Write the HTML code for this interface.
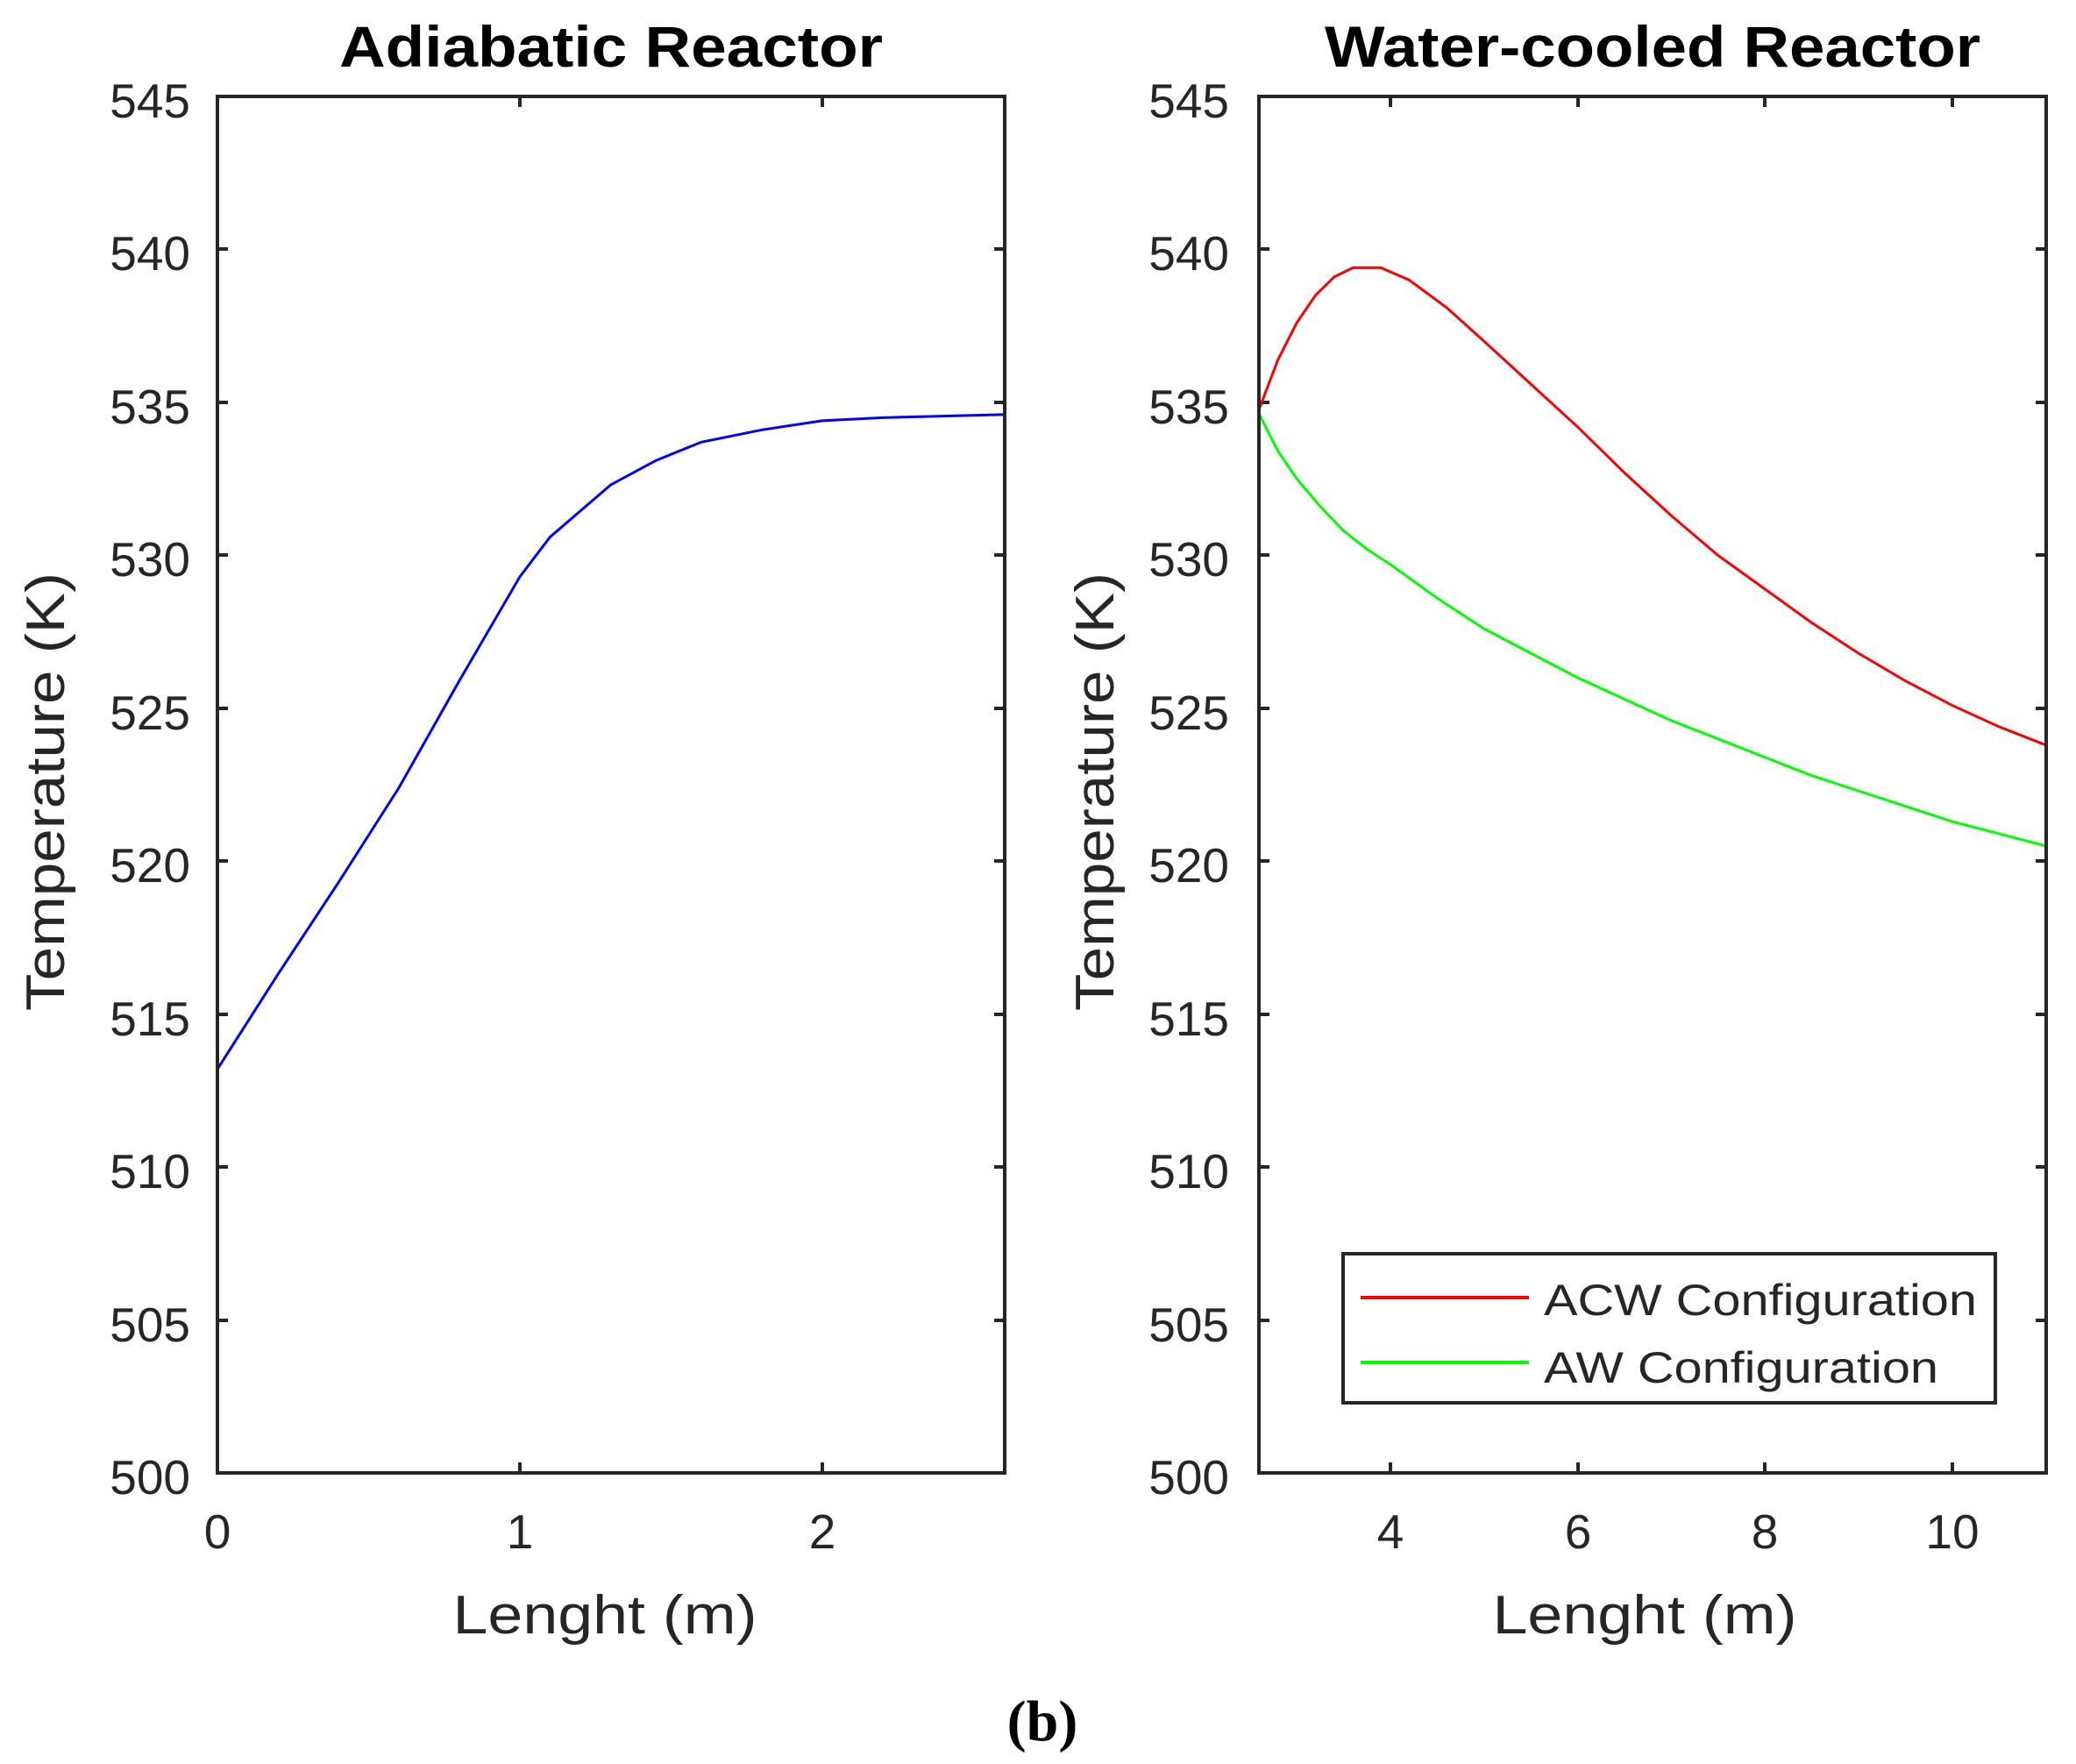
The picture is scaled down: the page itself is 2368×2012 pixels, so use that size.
<!DOCTYPE html>
<html><head><meta charset="utf-8"><style>html,body{margin:0;padding:0;background:#fff}svg{display:block}</style></head>
<body>
<svg width="2368" height="2012" viewBox="0 0 2368 2012" xmlns="http://www.w3.org/2000/svg" font-family="Liberation Sans, sans-serif">
<rect width="2368" height="2012" fill="#fff"/>
<defs><clipPath id="cl"><rect x="248" y="110" width="898" height="1570"/></clipPath>
<clipPath id="cr"><rect x="1436" y="110" width="898" height="1570"/></clipPath></defs>
<!-- Titles -->
<text x="697" y="76" font-size="66" font-weight="bold" text-anchor="middle" textLength="620" lengthAdjust="spacingAndGlyphs">Adiabatic Reactor</text>
<text x="1885" y="76" font-size="66" font-weight="bold" text-anchor="middle" textLength="748" lengthAdjust="spacingAndGlyphs">Water-cooled Reactor</text>
<g fill="#262626" font-size="55">
<!-- left y ticks -->
<g text-anchor="end">
<text x="217" y="134">545</text><text x="217" y="308">540</text><text x="217" y="483">535</text><text x="217" y="657">530</text><text x="217" y="832">525</text><text x="217" y="1006">520</text><text x="217" y="1181">515</text><text x="217" y="1355">510</text><text x="217" y="1530">505</text><text x="217" y="1704">500</text>
<text x="1402" y="134">545</text><text x="1402" y="308">540</text><text x="1402" y="483">535</text><text x="1402" y="657">530</text><text x="1402" y="832">525</text><text x="1402" y="1006">520</text><text x="1402" y="1181">515</text><text x="1402" y="1355">510</text><text x="1402" y="1530">505</text><text x="1402" y="1704">500</text>
</g>
<g text-anchor="middle">
<text x="248" y="1766">0</text><text x="593" y="1766">1</text><text x="938" y="1766">2</text>
<text x="1586" y="1766">4</text><text x="1800" y="1766">6</text><text x="2013" y="1766">8</text><text x="2227" y="1766">10</text>
</g>
<g font-size="62" text-anchor="middle">
<text x="690" y="1863" textLength="347" lengthAdjust="spacingAndGlyphs">Lenght (m)</text>
<text x="1876" y="1863" textLength="347" lengthAdjust="spacingAndGlyphs">Lenght (m)</text>
<text transform="translate(73,903) rotate(-90)" textLength="500" lengthAdjust="spacingAndGlyphs">Temperature (K)</text>
<text transform="translate(1270,903) rotate(-90)" textLength="500" lengthAdjust="spacingAndGlyphs">Temperature (K)</text>
</g>
</g>
<!-- ticks -->
<g stroke="#262626" stroke-width="4">
<path d="M248 284h12M248 459h12M248 633h12M248 808h12M248 982h12M248 1157h12M248 1331h12M248 1506h12
M1146 284h-12M1146 459h-12M1146 633h-12M1146 808h-12M1146 982h-12M1146 1157h-12M1146 1331h-12M1146 1506h-12
M593 1680v-12M938 1680v-12M593 110v12M938 110v12"/>
<path d="M1436 284h12M1436 459h12M1436 633h12M1436 808h12M1436 982h12M1436 1157h12M1436 1331h12M1436 1506h12
M2334 284h-12M2334 459h-12M2334 633h-12M2334 808h-12M2334 982h-12M2334 1157h-12M2334 1331h-12M2334 1506h-12
M1586 1680v-12M1800 1680v-12M2013 1680v-12M2227 1680v-12M1586 110v12M1800 110v12M2013 110v12M2227 110v12"/>
</g>
<!-- data -->
<g clip-path="url(#cl)"><g transform="translate(248,110) scale(345,-34.89) translate(0,-545)">
<polyline fill="none" stroke="#0000ff" stroke-width="3" vector-effect="non-scaling-stroke" points="0,513.2 0.2,516.3 0.4,519.3 0.6,522.4 0.8,525.9 1.0,529.3 1.1,530.6 1.3,532.3 1.45,533.1 1.6,533.7 1.8,534.1 2.0,534.4 2.2,534.5 2.6,534.6"/>
</g></g>
<g clip-path="url(#cr)"><g transform="translate(1436.5,110) scale(106.75,-34.89) translate(-2.6,-545)">
<polyline fill="none" stroke="#ff0000" stroke-width="3" vector-effect="non-scaling-stroke" points="2.6,534.8 2.8,536.4 3.0,537.6 3.2,538.5 3.4,539.1 3.6,539.4 3.9,539.4 4.2,539.0 4.6,538.1 5,537 5.5,535.6 6,534.2 6.5,532.7 7,531.3 7.5,530.0 8,528.9 8.5,527.8 9,526.8 9.5,525.9 10,525.1 10.5,524.4 11,523.8"/>
<polyline fill="none" stroke="#00ff00" stroke-width="3" vector-effect="non-scaling-stroke" points="2.6,534.6 2.8,533.4 3,532.5 3.25,531.6 3.5,530.8 3.75,530.2 4,529.7 4.5,528.6 5,527.6 5.5,526.8 6,526 6.5,525.3 7,524.6 7.5,524.0 8,523.4 8.5,522.8 9,522.3 9.5,521.8 10,521.3 10.5,520.9 11,520.5"/>
</g></g>
<!-- axes boxes -->
<rect x="248" y="110" width="898" height="1570" fill="none" stroke="#262626" stroke-width="4"/>
<rect x="1436" y="110" width="898" height="1570" fill="none" stroke="#262626" stroke-width="4"/>
<!-- legend -->
<rect x="1532" y="1430" width="744" height="170" fill="#fff" stroke="#262626" stroke-width="4"/>
<line x1="1552" y1="1480" x2="1744" y2="1480" stroke="#ff0000" stroke-width="4"/>
<line x1="1552" y1="1554" x2="1744" y2="1554" stroke="#00ff00" stroke-width="4"/>
<g font-size="50" fill="#262626">
<text x="1761" y="1500" textLength="494" lengthAdjust="spacingAndGlyphs">ACW Configuration</text>
<text x="1761" y="1577" textLength="450" lengthAdjust="spacingAndGlyphs">AW Configuration</text>
</g>
<text x="1189" y="1985" font-family="Liberation Serif, serif" font-weight="bold" font-size="66" text-anchor="middle">(b)</text>
</svg>
</body></html>
